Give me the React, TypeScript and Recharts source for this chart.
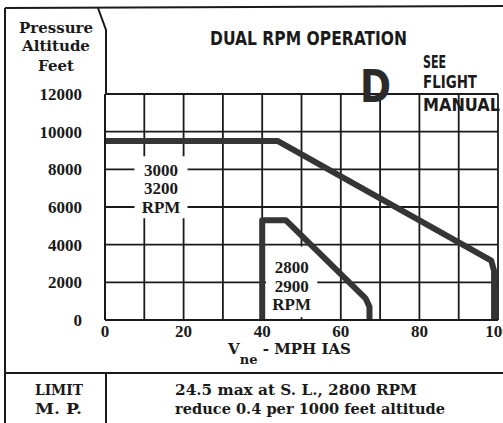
import React from 'react';
import { ComposedChart, Line, XAxis, YAxis, CartesianGrid, ReferenceArea } from 'recharts';

// ---- data ----
const speedTicks = [0, 10, 20, 30, 40, 50, 60, 70, 80, 90, 100];
const altitudeTicks = [0, 2000, 4000, 6000, 8000, 10000, 12000];

// 3000 / 3200 RPM limit (Vne mph vs pressure altitude ft)
const highRpmSpeed = [0, 44, 98.3, 99, 99];
const highRpmAlt = [9500, 9500, 3150, 2600, 0];

// 2800 / 2900 RPM limit
const lowRpmSpeed = [40, 40, 46, 66.3, 67.3, 67.3];
const lowRpmAlt = [0, 5300, 5300, 1150, 700, 0];

const highRpmLabel = ['3000', '3200', 'RPM'];
const lowRpmLabel = ['2800', '2900', 'RPM'];

const highRpmData = highRpmSpeed.map((v, i) => ({ v, alt: highRpmAlt[i] }));
const lowRpmData = lowRpmSpeed.map((v, i) => ({ v, alt: lowRpmAlt[i] }));

const INK = '#1a1a1a';
const CURVE = '#353535';
const SERIF = '"DejaVu Serif", serif';
const NUM = '"Liberation Serif", serif';
const COND = '"DejaVu Sans Condensed", "DejaVu Sans", sans-serif';

const makeBoxLabel = (lines: string[], firstOffset: number) => (props: any) => {
  const vb = props.viewBox || {};
  const cx = vb.x + vb.width / 2;
  return (
    <g>
      {lines.map((t, i) => (
        <text
          key={i}
          x={cx}
          y={vb.y + firstOffset + i * 18.5}
          textAnchor="middle"
          dominantBaseline="central"
          fontFamily={NUM}
          fontWeight="bold"
          fontSize={17}
          fill={INK}
        >
          {t}
        </text>
      ))}
    </g>
  );
};

const xTitle = (props: any) => {
  const vb = props.viewBox || {};
  const cx = vb.x + vb.width / 2 - 12;
  return (
    <text x={cx} y={354} textAnchor="middle" fontFamily={SERIF} fontWeight="bold" fontSize={15} fill={INK}>
      V
      <tspan dy={10} fontSize={13}>ne</tspan>
      <tspan dy={-10}>{' - MPH IAS'}</tspan>
    </text>
  );
};

const blank = () => '';

export default function App() {
  return (
    <div style={{ position: 'fixed', left: 0, top: 0, width: 503, height: 423, background: '#fff', overflow: 'hidden' }}>
      <ComposedChart width={503} height={423} margin={{ top: 64, right: 0, bottom: 73, left: 0 }}>
        <CartesianGrid stroke={INK} strokeWidth={1.8} />
        <XAxis
          dataKey="v"
          type="number"
          domain={[0, 100]}
          ticks={speedTicks}
          interval={0}
          allowDataOverflow
          tickFormatter={(v: number) => (v % 20 === 0 ? String(v) : '')}
          height={30}
          tickLine={false}
          tickSize={0}
          tickMargin={5}
          axisLine={{ stroke: INK, strokeWidth: 2 }}
          tick={{ fontFamily: NUM, fontWeight: 'bold', fontSize: 17, fill: INK }}
          label={xTitle}
        />
        <XAxis
          xAxisId="top"
          orientation="top"
          dataKey="v"
          type="number"
          domain={[0, 100]}
          ticks={speedTicks}
          interval={0}
          height={30}
          tickSize={5}
          tickFormatter={blank}
          tickLine={{ stroke: INK, strokeWidth: 1.8 }}
          axisLine={false}
        />
        <YAxis
          type="number"
          domain={[0, 12000]}
          ticks={altitudeTicks}
          interval={0}
          width={105}
          tickLine={false}
          tickSize={0}
          tickMargin={23}
          axisLine={{ stroke: INK, strokeWidth: 2 }}
          tick={{ fontFamily: NUM, fontWeight: 'bold', fontSize: 17, fill: INK }}
        />
        <YAxis
          yAxisId="right"
          orientation="right"
          type="number"
          domain={[0, 12000]}
          ticks={altitudeTicks}
          interval={0}
          width={5}
          tickSize={5}
          tickFormatter={blank}
          tickLine={{ stroke: INK, strokeWidth: 1.8 }}
          axisLine={false}
        />
        <ReferenceArea
          x1={7.5}
          x2={21}
          y1={5400}
          y2={8700}
          fill="#fff"
          fillOpacity={1}
          stroke="none"
          label={makeBoxLabel(highRpmLabel, 14)}
        />
        <ReferenceArea
          x1={41}
          x2={54}
          y1={150}
          y2={3900}
          fill="#fff"
          fillOpacity={1}
          stroke="none"
          label={makeBoxLabel(lowRpmLabel, 21)}
        />
        <Line
          data={highRpmData}
          dataKey="alt"
          type="linear"
          stroke={CURVE}
          strokeWidth={6}
          strokeLinejoin="round"
          dot={false}
          activeDot={false}
          isAnimationActive={false}
        />
        <Line
          data={lowRpmData}
          dataKey="alt"
          type="linear"
          stroke={CURVE}
          strokeWidth={6}
          strokeLinejoin="round"
          dot={false}
          activeDot={false}
          isAnimationActive={false}
        />
      </ComposedChart>

      <svg
        width={503}
        height={423}
        style={{ position: 'absolute', left: 0, top: 0, pointerEvents: 'none' }}
      >
        {/* frame */}
        <line x1={5} y1={8} x2={503} y2={6} stroke={INK} strokeWidth={2} />
        <line x1={5} y1={8} x2={5} y2={423} stroke={INK} strokeWidth={2} />
        <polyline points="98,8 106,30 106,94" fill="none" stroke={INK} strokeWidth={2} />
        <line x1={5} y1={373} x2={503} y2={373} stroke={INK} strokeWidth={2} />
        <line x1={106} y1={373} x2={106} y2={423} stroke={INK} strokeWidth={2} />

        {/* left header */}
        <g fontFamily={SERIF} fontWeight="bold" fontSize={15} fill={INK} textAnchor="middle">
          <text x={56} y={33}>Pressure</text>
          <text x={56} y={51}>Altitude</text>
          <text x={56} y={71}>Feet</text>
        </g>

        {/* title block */}
        <text x={210} y={45} fontFamily={COND} fontWeight="bold" fontSize={20} fill={INK} textLength={197} lengthAdjust="spacingAndGlyphs">
          DUAL RPM OPERATION
        </text>
        <text x={360} y={102} fontFamily={COND} fontWeight="bold" fontSize={44} fill="#2a2a2a" textLength={31} lengthAdjust="spacingAndGlyphs">
          D
        </text>
        <g fontFamily={COND} fontWeight="bold" fontSize={18} fill={INK}>
          <text x={423} y={68} textLength={23} lengthAdjust="spacingAndGlyphs">SEE</text>
          <text x={423} y={88} textLength={54} lengthAdjust="spacingAndGlyphs">FLIGHT</text>
          <text x={423} y={111} textLength={77} lengthAdjust="spacingAndGlyphs">MANUAL</text>
        </g>

        {/* bottom notes */}
        <g fontFamily={SERIF} fontWeight="bold" fontSize={14} fill={INK}>
          <text x={35} y={395} textLength={48} lengthAdjust="spacingAndGlyphs">LIMIT</text>
          <text x={35} y={414} textLength={47} lengthAdjust="spacingAndGlyphs">M. P.</text>
          <text x={175} y={395} textLength={242} lengthAdjust="spacingAndGlyphs">24.5 max at S. L., 2800 RPM</text>
          <text x={175} y={414} textLength={270} lengthAdjust="spacingAndGlyphs">reduce 0.4 per 1000 feet altitude</text>
        </g>
      </svg>
    </div>
  );
}
